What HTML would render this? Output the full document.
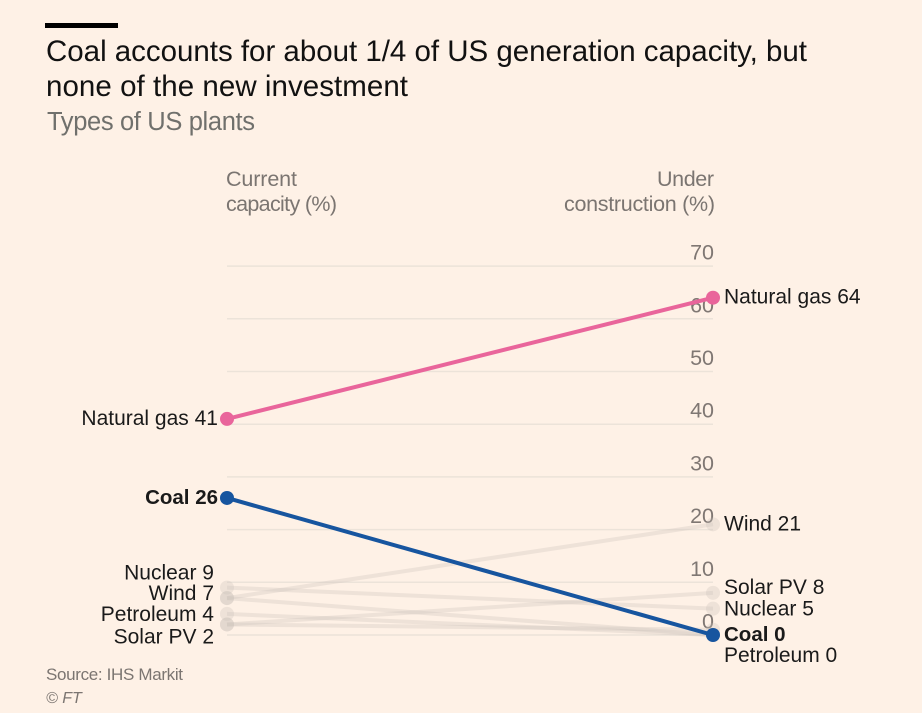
<!DOCTYPE html>
<html lang="en">
<head>
<meta charset="utf-8">
<title>US generation capacity</title>
<style>
html,body{margin:0;padding:0;background:#fef1e6;}
svg{display:block;font-family:"Liberation Sans",sans-serif;}
</style>
</head>
<body>
<svg id="chart" width="922" height="713" viewBox="0 0 922 713" xmlns="http://www.w3.org/2000/svg">
  <rect x="0" y="0" width="922" height="713" fill="#fef1e6"/>
  <rect x="45" y="23" width="73" height="5" fill="#000"/>
  <text x="46" y="61" font-size="29.5" fill="#111" textLength="761" lengthAdjust="spacing">Coal accounts for about 1/4 of US generation capacity, but</text>
  <text x="46" y="96" font-size="29.5" fill="#111" textLength="362" lengthAdjust="spacing">none of the new investment</text>
  <text x="47" y="130" font-size="25.5" fill="#70706c" textLength="208" lengthAdjust="spacing">Types of US plants</text>
  <text x="226" y="186" font-size="21.5" fill="#7b7571" textLength="71" lengthAdjust="spacing">Current</text>
  <text x="226" y="211" font-size="21.5" fill="#7b7571" textLength="111" lengthAdjust="spacing">capacity (%)</text>
  <text x="657" y="186" font-size="21.5" fill="#7b7571" textLength="57" lengthAdjust="spacing">Under</text>
  <text x="564" y="211" font-size="21.5" fill="#7b7571" textLength="151" lengthAdjust="spacing">construction (%)</text>
  <g id="grid"></g>
  <g id="ticks"></g>
  <g id="series"></g>
  <g id="labels"></g>
  <text x="46" y="680" font-size="17" fill="#7b7571" textLength="137" lengthAdjust="spacing">Source: IHS Markit</text>
  <text x="46" y="703" font-size="16" font-style="italic" fill="#7b7571">© FT</text>
</svg>
<script>
const tickValues = [0, 10, 20, 30, 40, 50, 60, 70];
const seriesNames = ['Hydro', 'Other', 'Nuclear', 'Wind', 'Petroleum', 'Solar PV', 'Natural gas', 'Coal'];
const currentCapacity = [7, 2, 9, 7, 4, 2, 41, 26];
const underConstruction = [0, 1, 5, 21, 0, 8, 64, 0];
const labelledSeries = ['Nuclear', 'Wind', 'Petroleum', 'Solar PV', 'Natural gas', 'Coal'];

const NS = 'http://www.w3.org/2000/svg';
const xLeft = 227;
const xRight = 713;
const yZero = 635;
const yPerUnit = 5.27;
function yScale(v) { return yZero - v * yPerUnit; }

function seriesColor(name) {
  if (name === 'Natural gas') return '#e9659b';
  if (name === 'Coal') return '#17559f';
  return '#c9c1b8';
}
/* label de-overlap nudges (px), a layout setting rather than data */
function leftNudge(name) {
  if (name === 'Nuclear') return -14;
  if (name === 'Wind') return -4;
  if (name === 'Petroleum') return 1;
  if (name === 'Solar PV') return 13;
  return 0;
}
function rightNudge(name) {
  if (name === 'Solar PV') return -5;
  if (name === 'Petroleum') return 21;
  if (name === 'Nuclear') return 1;
  if (name === 'Natural gas') return 0;
  return 0;
}

const grid = document.getElementById('grid');
const ticks = document.getElementById('ticks');
tickValues.forEach(function (t) {
  const line = document.createElementNS(NS, 'line');
  
  
  line.setAttribute('x1', xLeft);
  line.setAttribute('x2', xRight);
  line.setAttribute('y1', yScale(t));
  line.setAttribute('y2', yScale(t));
  line.setAttribute('stroke', '#ece3d9');
  line.setAttribute('stroke-width', '1.5');
  grid.appendChild(line);

  const text = document.createElementNS(NS, 'text');
  
  
  text.setAttribute('x', xRight + 1);
  text.setAttribute('y', yScale(t) - 6.5);
  text.setAttribute('text-anchor', 'end');
  text.setAttribute('font-size', '21.5');
  text.setAttribute('fill', '#7f7773');
  text.textContent = String(t);
  ticks.appendChild(text);
});

const seriesGroup = document.getElementById('series');
const labelGroup = document.getElementById('labels');
const order = seriesNames.map(function (_, i) { return i; });

order.forEach(function (i) {
  const name = seriesNames[i];
  const color = seriesColor(name);
  const highlighted = name === 'Natural gas' || name === 'Coal';
  const opacity = highlighted ? 1 : 0.3;

  const line = document.createElementNS(NS, 'line');
  
  
  line.setAttribute('x1', xLeft);
  line.setAttribute('x2', xRight);
  line.setAttribute('y1', yScale(currentCapacity[i]));
  line.setAttribute('y2', yScale(underConstruction[i]));
  line.setAttribute('stroke', color);
  line.setAttribute('stroke-width', '4');
  line.setAttribute('stroke-opacity', opacity);
  seriesGroup.appendChild(line);

  const dotLeft = document.createElementNS(NS, 'circle');
  
  
  dotLeft.setAttribute('cx', xLeft);
  dotLeft.setAttribute('cy', yScale(currentCapacity[i]));
  dotLeft.setAttribute('r', '7');
  dotLeft.setAttribute('fill', color);
  dotLeft.setAttribute('fill-opacity', opacity);
  seriesGroup.appendChild(dotLeft);

  const dotRight = document.createElementNS(NS, 'circle');
  
  
  dotRight.setAttribute('cx', xRight);
  dotRight.setAttribute('cy', yScale(underConstruction[i]));
  dotRight.setAttribute('r', '7');
  dotRight.setAttribute('fill', color);
  dotRight.setAttribute('fill-opacity', opacity);
  seriesGroup.appendChild(dotRight);

  if (labelledSeries.indexOf(name) === -1) return;
  const bold = name === 'Coal';

  const leftLabel = document.createElementNS(NS, 'text');
  
  
  leftLabel.setAttribute('x', xLeft - (highlighted ? 9 : 13));
  leftLabel.setAttribute('y', yScale(currentCapacity[i]) + leftNudge(name) + 6);
  leftLabel.setAttribute('text-anchor', 'end');
  leftLabel.setAttribute('font-size', bold ? '20.5' : '21');
  leftLabel.setAttribute('font-weight', bold ? 'bold' : 'normal');
  leftLabel.setAttribute('fill', '#1a1a1a');
  leftLabel.textContent = name + ' ' + currentCapacity[i];
  labelGroup.appendChild(leftLabel);

  const rightLabel = document.createElementNS(NS, 'text');
  
  
  rightLabel.setAttribute('x', xRight + 11);
  rightLabel.setAttribute('y', yScale(underConstruction[i]) + rightNudge(name) + 6);
  rightLabel.setAttribute('font-size', bold ? '20.5' : '21');
  rightLabel.setAttribute('font-weight', bold ? 'bold' : 'normal');
  rightLabel.setAttribute('fill', '#1a1a1a');
  rightLabel.textContent = name + ' ' + underConstruction[i];
  labelGroup.appendChild(rightLabel);
});
</script>
</body>
</html>
